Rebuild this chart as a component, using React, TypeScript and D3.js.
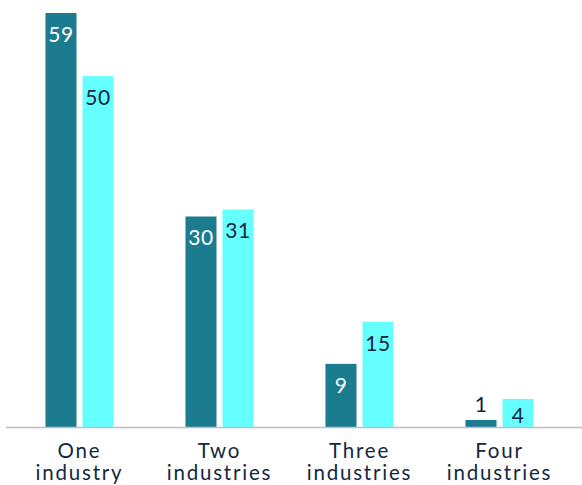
import React from "react";
import * as d3 from "d3";

const categories = ["One industry", "Two industries", "Three industries", "Four industries"];
const seriesNames = ["A", "B"];
const seriesA = [59, 30, 9, 1];
const seriesB = [50, 31, 15, 4];
const colors = ["#1b7b8f", "#66ffff"];
const labelColors = ["#ffffff", "#13283f"];

const W = 582;
const H = 485;
const baseY = 427;
const topY = 13;

export default function App() {
  const x0 = d3
    .scaleBand<string>()
    .domain(categories)
    .range([6, 573])
    .paddingInner(0.514)
    .paddingOuter(0.282);
  const x1 = d3
    .scaleBand<string>()
    .domain(seriesNames)
    .range([0, x0.bandwidth()])
    .paddingInner(0.162)
    .paddingOuter(0);
  const y = d3.scaleLinear().domain([0, 59]).range([baseY, topY]);
  const series = [seriesA, seriesB];
  const font = "Lato, 'Open Sans', sans-serif";

  return (
    <svg
      width={W}
      height={H}
      style={{ position: "absolute", left: 0, top: 0, display: "block" }}
      fontFamily={font}
    >
      <rect width={W} height={H} fill="#ffffff" />
      {categories.map((c, ci) => (
        <g key={c} transform={`translate(${x0(c)},0)`}>
          {series.map((s, si) => {
            const v = s[ci];
            const bx = x1(seriesNames[si])!;
            const top = y(v);
            const h = baseY - top;
            const inside = h > 20;
            const ly = inside ? Math.min(top + 29, baseY - 4) : top - 8;
            return (
              <g key={si}>
                <rect x={bx} y={top} width={x1.bandwidth()} height={h} fill={colors[si]} />
                <text
                  x={bx + x1.bandwidth() / 2}
                  y={ly}
                  textAnchor="middle"
                  fontSize={21}
                  letterSpacing={0.5}
                  fill={inside ? labelColors[si] : labelColors[1]}
                >
                  {v}
                </text>
              </g>
            );
          })}
          <text
            x={x0.bandwidth() / 2}
            y={458}
            textAnchor="middle"
            fontSize={20.5}
            letterSpacing={1.8}
            fill="#13283f"
          >
            {c.split(" ").map((w, wi) => (
              <tspan key={wi} x={x0.bandwidth() / 2} dy={wi === 0 ? 0 : 22}>
                {w}
              </tspan>
            ))}
          </text>
        </g>
      ))}
      <line x1={6} x2={582} y1={baseY + 0.5} y2={baseY + 0.5} stroke="#bdbccb" strokeWidth={1.5} />
    </svg>
  );
}
